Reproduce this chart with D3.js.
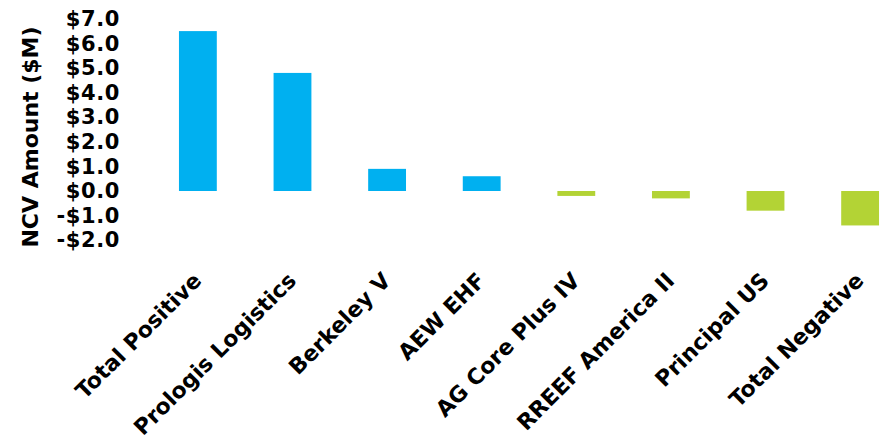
<!DOCTYPE html>
<html>
<head>
<meta charset="utf-8">
<script src="https://cdn.jsdelivr.net/npm/d3@7"></script>
<style>
  html, body { margin: 0; padding: 0; background: #fff; }
  svg { display: block; }
  text { font-family: "DejaVu Sans", sans-serif; font-weight: bold; fill: #000; }
</style>
</head>
<body>
<div id="chart"></div>
<script>
// Données
const categories = ["Total Positive", "Prologis Logistics", "Berkeley V", "AEW EHF",
                    "AG Core Plus IV", "RREEF America II", "Principal US", "Total Negative"];
const values = [6.5, 4.8, 0.9, 0.6, -0.2, -0.3, -0.8, -1.4];
const yTicks = [7, 6, 5, 4, 3, 2, 1, 0, -1, -2];
const yTitle = "NCV Amount ($M)";

const fullWidth = 886, fullHeight = 444;

const svg = d3.select("#chart")
    .append("svg")
    .attr("width", fullWidth)
    .attr("height", fullHeight);

const xScale = d3.scaleBand()
    .domain(categories)
    .range([169.5, 888.5])
    .paddingInner(0.6)
    .paddingOuter(0.1);

const yScale = d3.scaleLinear()
    .domain([-2, 7])
    .range([240.2, 18.8]);

const fmt = v => (v < 0 ? "-$" : "$") + Math.abs(v).toFixed(1);

// Axe Y (sans ligne)
const yAxis = svg.append("g")
    .attr("transform", "translate(125,0)")
    .call(d3.axisLeft(yScale).tickValues(yTicks).tickFormat(fmt).tickSize(0).tickPadding(5));
yAxis.select(".domain").remove();
yAxis.selectAll("text")
    .style("font-size", "21px")
    .style("letter-spacing", "0.6px")
    .style("font-family", "'DejaVu Sans', sans-serif")
    .style("font-weight", "bold")
    .attr("fill", "#000");

// Titre de l'axe Y
svg.append("text")
    .attr("transform", "translate(38,137) rotate(-90)")
    .style("text-anchor", "middle")
    .style("font-size", "22px")
    .text(yTitle);

// Barres
svg.selectAll("rect.bar")
    .data(categories)
    .enter()
    .append("rect")
    .attr("class", "bar")
    .attr("x", d => xScale(d))
    .attr("width", xScale.bandwidth())
    .attr("y", (d, i) => yScale(Math.max(0, values[i])))
    .attr("height", (d, i) => Math.abs(yScale(values[i]) - yScale(0)))
    .attr("fill", (d, i) => values[i] >= 0 ? "#00B0F0" : "#B3D335");

// Axe X (étiquettes pivotées)
const xAxis = svg.append("g")
    .attr("transform", "translate(0,282)")
    .call(d3.axisBottom(xScale).tickSize(0).tickPadding(0));
xAxis.select(".domain").remove();
xAxis.selectAll("text")
    .style("font-size", "22px")
    .style("font-family", "'DejaVu Sans', sans-serif")
    .style("font-weight", "bold")
    .attr("fill", "#000")
    .attr("y", 0)
    .attr("dy", 0)
    .style("text-anchor", "end")
    .attr("transform", "translate(5,0) rotate(-45)");
</script>
</body>
</html>
